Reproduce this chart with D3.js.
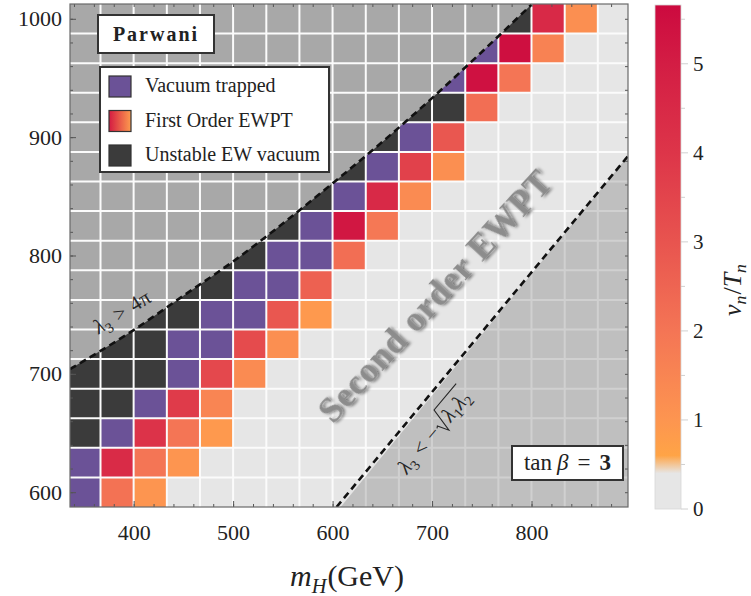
<!DOCTYPE html>
<html><head><meta charset="utf-8">
<script src="https://cdn.jsdelivr.net/npm/d3@7"></script>
<style>
body{margin:0;background:#fff}
svg{display:block}
text{font-family:"Liberation Serif","DejaVu Serif",serif}
</style>
</head><body><div id="chart"></div>
<script>
// ---------- data ----------
const mH = [350, 383.3, 416.7, 450, 483.3, 516.7, 550, 583.3, 616.7, 650, 683.3, 716.7, 750, 783.3, 816.7, 850, 883.3];
const mA = [600, 625, 650, 675, 700, 725, 750, 775, 800, 825, 850, 875, 900, 925, 950, 975, 1000];
// rows bottom (mA=600) to top (mA=1000); number = v_n/T_n, "V" vacuum trapped, "U" unstable EW vacuum, null = excluded
const _ = null;
const cellRows = [
  ["V", 2.1, 1.0, 0, 0, 0, 0, 0, 0, 0, 0, 0, 0, 0, 0, 0, 0],
  ["V", 4.4, 2.0, 1.0, 0, 0, 0, 0, 0, 0, 0, 0, 0, 0, 0, 0, 0],
  ["U", "V", 4.1, 2.0, 0.9, 0, 0, 0, 0, 0, 0, 0, 0, 0, 0, 0, 0],
  ["U", "U", "V", 3.8, 1.5, 0, 0, 0, 0, 0, 0, 0, 0, 0, 0, 0, 0],
  ["U", "U", "U", "V", 3.4, 1.3, 0, 0, 0, 0, 0, 0, 0, 0, 0, 0, 0],
  ["U", "U", "U", "V", "V", 3.3, 1.2, 0, 0, 0, 0, 0, 0, 0, 0, 0, 0],
  [_, _, "U", "U", "V", "V", 2.9, 0.9, 0, 0, 0, 0, 0, 0, 0, 0, 0],
  [_, _, _, "U", "U", "V", "V", 2.6, 0, 0, 0, 0, 0, 0, 0, 0, 0],
  [_, _, _, _, "U", "U", "V", "V", 2.2, 0, 0, 0, 0, 0, 0, 0, 0],
  [_, _, _, _, _, "U", "U", "V", 5.2, 1.9, 0, 0, 0, 0, 0, 0, 0],
  [_, _, _, _, _, _, "U", "U", "V", 4.5, 1.3, 0, 0, 0, 0, 0, 0],
  [_, _, _, _, _, _, _, _, "U", "V", 3.6, 1.2, 0, 0, 0, 0, 0],
  [_, _, _, _, _, _, _, _, _, "U", "V", 2.9, 0, 0, 0, 0, 0],
  [_, _, _, _, _, _, _, _, _, _, "U", "U", 2.2, 0, 0, 0, 0],
  [_, _, _, _, _, _, _, _, _, _, _, "V", 5.4, 2.0, 0, 0, 0],
  [_, _, _, _, _, _, _, _, _, _, _, _, "V", 5.5, 1.6, 0, 0],
  [_, _, _, _, _, _, _, _, _, _, _, _, _, "U", 4.5, 1.2, 0]
];
// lambda3 > 4pi boundary
const upperMH = [336, 400, 450, 500, 550, 600, 650, 700, 750, 800];
const upperMA = [704, 737, 766, 795, 827, 861, 896, 933, 972, 1012];
// lambda3 < -sqrt(l1 l2) boundary
const lowerMH = [604, 897];
const lowerMA = [587.5, 884];

const xTicks = [400, 500, 600, 700, 800];
const yTicks = [600, 700, 800, 900, 1000];
const cbTicks = [0, 1, 2, 3, 4, 5];
const cStops = [0.6, 1, 2, 3, 4, 5, 5.66];
const cColors = ['#ffa446', '#fd9550', '#f47555', '#e8544f', '#dd3549', '#d31d44', '#cc0a3f'];
const legendItems = ["Vacuum trapped", "First Order EWPT", "Unstable EW vacuum"];

// ---------- setup ----------
const W = 751, H = 596;
const PL = 70, PR = 628, PT = 4, PB = 507;
const svg = d3.select('#chart').append('svg').attr('width', W).attr('height', H);
const x = d3.scaleLinear().domain([336, 897]).range([PL, PR]);
const y = d3.scaleLinear().domain([587.5, 1012.5]).range([PB, PT]);
const color = d3.scaleLinear().domain(cStops).range(cColors).clamp(true);
const LIGHT = '#e6e6e6', PURPLE = '#6b5297', DARK = '#3b3b3b';
const fillOf = v => v === "V" ? PURPLE : v === "U" ? DARK : (v === 0 ? LIGHT : color(v));

const defs = svg.append('defs');
defs.append('clipPath').attr('id', 'clip').append('rect')
  .attr('x', PL).attr('y', PT).attr('width', PR - PL).attr('height', PB - PT);
const sh = defs.append('filter').attr('id', 'shadow').attr('x', '-20%').attr('y', '-20%').attr('width', '140%').attr('height', '140%');
sh.append('feDropShadow').attr('dx', 1.5).attr('dy', 2).attr('stdDeviation', 1.6)
  .attr('flood-color', '#000').attr('flood-opacity', 0.55);

const plot = svg.append('g').attr('clip-path', 'url(#clip)');
plot.append('rect').attr('x', PL).attr('y', PT).attr('width', PR - PL).attr('height', PB - PT).attr('fill', LIGHT);

const hw = 50 / 3, hh = 12.5;
const cells = [];
cellRows.forEach((row, ri) => row.forEach((v, ci) => { if (v !== null) cells.push({ mh: mH[ci], ma: mA[ri], v }); }));
plot.selectAll('rect.cell').data(cells).join('rect').attr('class', 'cell')
  .attr('x', d => x(d.mh - hw)).attr('width', d => x(d.mh + hw) - x(d.mh - hw))
  .attr('y', d => y(d.ma + hh)).attr('height', d => y(d.ma - hh) - y(d.ma + hh))
  .attr('fill', d => fillOf(d.v));

// upper excluded region
const upperPts = upperMH.map((m, i) => [m, upperMA[i]]);
plot.append('path').datum(upperPts)
  .attr('d', d3.area().x(d => x(d[0])).y0(y(y.domain()[1]) - 5).y1(d => y(d[1])).curve(d3.curveMonotoneX))
  .attr('fill', '#a8a8a8');

// grid lines (cell boundaries)
const vLines = mH.slice(0, -1).map(m => m + hw);
const hLines = mA.slice(0, -1).map(m => m + hh);
plot.selectAll('line.v').data(vLines).join('line').attr('x1', d => x(d)).attr('x2', d => x(d))
  .attr('y1', PT).attr('y2', PB).attr('stroke', '#fbfbfb').attr('stroke-width', 2);
plot.selectAll('line.h').data(hLines).join('line').attr('y1', d => y(d)).attr('y2', d => y(d))
  .attr('x1', PL).attr('x2', PR).attr('stroke', '#fbfbfb').attr('stroke-width', 2);

// lower excluded region (semi transparent)
const lowerPts = lowerMH.map((m, i) => [m, lowerMA[i]]);
plot.append('path').datum(lowerPts)
  .attr('d', d => `M${x(d[0][0])},${y(d[0][1]) + 5}L${x(d[1][0])},${y(d[1][1])}L${PR + 5},${y(d[1][1])}L${PR + 5},${PB + 5}L${x(d[0][0]) - 5},${PB + 5}Z`)
  .attr('fill', 'rgba(0,0,0,0.17)');

// dashed boundaries
plot.append('path').datum(upperPts)
  .attr('d', d3.line().x(d => x(d[0])).y(d => y(d[1])).curve(d3.curveMonotoneX))
  .attr('fill', 'none').attr('stroke', '#111').attr('stroke-width', 2.6).attr('stroke-dasharray', '7,4.5');
plot.append('path').datum(lowerPts)
  .attr('d', d3.line().x(d => x(d[0])).y(d => y(d[1])))
  .attr('fill', 'none').attr('stroke', '#111').attr('stroke-width', 2.6).attr('stroke-dasharray', '7,4.5');

// ---------- axes ----------
const minorX = d3.range(340, 897, 20), minorY = d3.range(600, 1012, 20);
function styleAxis(g) { g.select('.domain').remove(); g.selectAll('line').attr('stroke', '#555'); }
svg.append('g').attr('transform', `translate(0,${PB})`)
  .call(d3.axisBottom(x).tickValues(minorX).tickSize(-3).tickFormat('')).call(styleAxis);
svg.append('g').attr('transform', `translate(0,${PB})`)
  .call(d3.axisBottom(x).tickValues(xTicks).tickSize(-6).tickPadding(17).tickFormat(d3.format('d'))).call(styleAxis)
  .selectAll('text').attr('font-size', 22).attr('fill', '#222');
svg.append('g').attr('transform', `translate(0,${PT})`)
  .call(d3.axisTop(x).tickValues(minorX).tickSize(-3).tickFormat('')).call(styleAxis);
svg.append('g').attr('transform', `translate(${PL},0)`)
  .call(d3.axisLeft(y).tickValues(minorY).tickSize(-3).tickFormat('')).call(styleAxis);
svg.append('g').attr('transform', `translate(${PL},0)`)
  .call(d3.axisLeft(y).tickValues(yTicks).tickSize(-6).tickPadding(8).tickFormat(d3.format('d'))).call(styleAxis)
  .selectAll('text').attr('font-size', 22).attr('fill', '#222');
svg.append('g').attr('transform', `translate(${PR},0)`)
  .call(d3.axisRight(y).tickValues(minorY).tickSize(-3).tickFormat('')).call(styleAxis);
svg.append('rect').attr('x', PL).attr('y', PT).attr('width', PR - PL).attr('height', PB - PT)
  .attr('fill', 'none').attr('stroke', '#6a6a6a').attr('stroke-width', 1.2);

// ---------- math label helper ----------
function mathLabel(parent, cx, cy, angle, pieces, size, fill) {
  const outer = parent.append('g').attr('transform', `translate(${cx},${cy}) rotate(${angle})`);
  const g = outer.append('g');
  let xp = 0, radStart = null;
  pieces.forEach(p => {
    if (p.rad) { radStart = xp; xp += size * 0.62; return; }
    const fs = p.sub ? size * 0.68 : size;
    const t = g.append('text').attr('x', xp).attr('y', p.sub ? size * 0.22 : 0).attr('font-size', fs)
      .attr('font-style', p.it ? 'italic' : null).attr('font-weight', p.bold ? 'bold' : null)
      .attr('fill', fill || '#222').text(p.t);
    xp += t.node().getComputedTextLength() + (p.sp || 0);
  });
  if (radStart !== null) {
    const s = size;
    g.append('path').attr('d', `M${radStart},${-0.33 * s}l${0.1 * s},${-0.06 * s}l${0.2 * s},${0.55 * s}l${0.28 * s},${-1.16 * s}H${xp + 1}`)
      .attr('fill', 'none').attr('stroke', fill || '#222').attr('stroke-width', 1.1);
  }
  g.attr('transform', `translate(${-xp / 2},${size * 0.33})`);
  return outer;
}

// region labels
mathLabel(svg, 122, 312, -32, [{ t: 'λ', it: true }, { t: '3', sub: true, sp: 7 }, { t: '>', sp: 7 }, { t: '4π', it: false }], 21, '#262626');
mathLabel(svg, 434, 432, -50, [{ t: 'λ', it: true }, { t: '3', sub: true, sp: 7 }, { t: '<', sp: 7 }, { t: '−', sp: 1 }, { rad: true },
  { t: 'λ', it: true }, { t: '1', sub: true }, { t: 'λ', it: true }, { t: '2', sub: true }], 21, '#262626');

svg.append('text').attr('transform', 'translate(435,296) rotate(-47.5)')
  .attr('text-anchor', 'middle').attr('dominant-baseline', 'central')
  .attr('font-size', 35).attr('font-weight', 'bold').attr('letter-spacing', 1)
  .attr('fill', '#8c8c8c').attr('filter', 'url(#shadow)').text('Second order EWPT');

// Parwani box
svg.append('rect').attr('x', 98).attr('y', 15).attr('width', 116).attr('height', 38)
  .attr('fill', '#fff').attr('stroke', '#333').attr('stroke-width', 2);
svg.append('text').attr('x', 156).attr('y', 41).attr('text-anchor', 'middle')
  .attr('font-size', 20).attr('font-weight', 'bold').attr('letter-spacing', 2).attr('fill', '#222').text('Parwani');

// legend
svg.append('rect').attr('x', 100).attr('y', 67).attr('width', 229).attr('height', 105)
  .attr('fill', '#fff').attr('stroke', '#333').attr('stroke-width', 2);
const lg = defs.append('linearGradient').attr('id', 'lgFO').attr('x1', 0).attr('x2', 1).attr('y1', 0).attr('y2', 0);
lg.append('stop').attr('offset', 0).attr('stop-color', '#d41a42');
lg.append('stop').attr('offset', 1).attr('stop-color', '#fd9b4e');
const swFill = [PURPLE, 'url(#lgFO)', DARK];
legendItems.forEach((t, i) => {
  const yy = 76 + i * 34.5;
  svg.append('rect').attr('x', 109).attr('y', yy).attr('width', 22).attr('height', 21)
    .attr('fill', swFill[i]).attr('stroke', '#333').attr('stroke-width', 1.2);
  svg.append('text').attr('x', 145).attr('y', yy + 16).attr('font-size', 20).attr('fill', '#222').text(t);
});

// tan beta box
svg.append('rect').attr('x', 512).attr('y', 446).attr('width', 111).attr('height', 34)
  .attr('fill', '#fff').attr('stroke', '#333').attr('stroke-width', 2);
mathLabel(svg, 567.5, 462, 0, [{ t: 'tan', sp: 5 }, { t: 'β', it: true, sp: 9 }, { t: '=', sp: 9 }, { t: '3', bold: true }], 23, '#222');

// axis title
mathLabel(svg, 347, 576, 0, [{ t: 'm', it: true }, { t: 'H', it: true, sub: true, sp: 1 }, { t: '(GeV)' }], 30, '#222');

// ---------- colorbar ----------
const cbMax = 5.66;
const cy = d3.scaleLinear().domain([0, cbMax]).range([509, 5]);
const cg = defs.append('linearGradient').attr('id', 'cbGrad').attr('x1', 0).attr('x2', 0).attr('y1', 1).attr('y2', 0);
[[0, LIGHT], [0.4, LIGHT]].concat(cStops.map((s, i) => [s, cColors[i]])).forEach(([v, c]) =>
  cg.append('stop').attr('offset', v / cbMax).attr('stop-color', c));
svg.append('rect').attr('x', 655).attr('y', cy(cbMax)).attr('width', 26).attr('height', cy(0) - cy(cbMax))
  .attr('fill', 'url(#cbGrad)').attr('stroke', '#d8d8d8').attr('stroke-width', 0.8);
svg.selectAll('line.cbt').data(d3.range(0, 5.6, 0.5)).join('line')
  .attr('x1', 681).attr('x2', d => Number.isInteger(d) ? 688 : 685)
  .attr('y1', d => cy(d)).attr('y2', d => cy(d)).attr('stroke', '#d0d0d0').attr('stroke-width', 1);
svg.selectAll('text.cbl').data(cbTicks).join('text')
  .attr('x', 693).attr('y', d => cy(d)).attr('dy', '0.35em').attr('font-size', 21).attr('fill', '#222').text(d => d);
mathLabel(svg, 732, 290, -90, [{ t: 'v', it: true }, { t: 'n', it: true, sub: true, sp: 1 }, { t: '/' }, { t: 'T', it: true }, { t: 'n', it: true, sub: true }], 26, '#222');
</script>
</body></html>
